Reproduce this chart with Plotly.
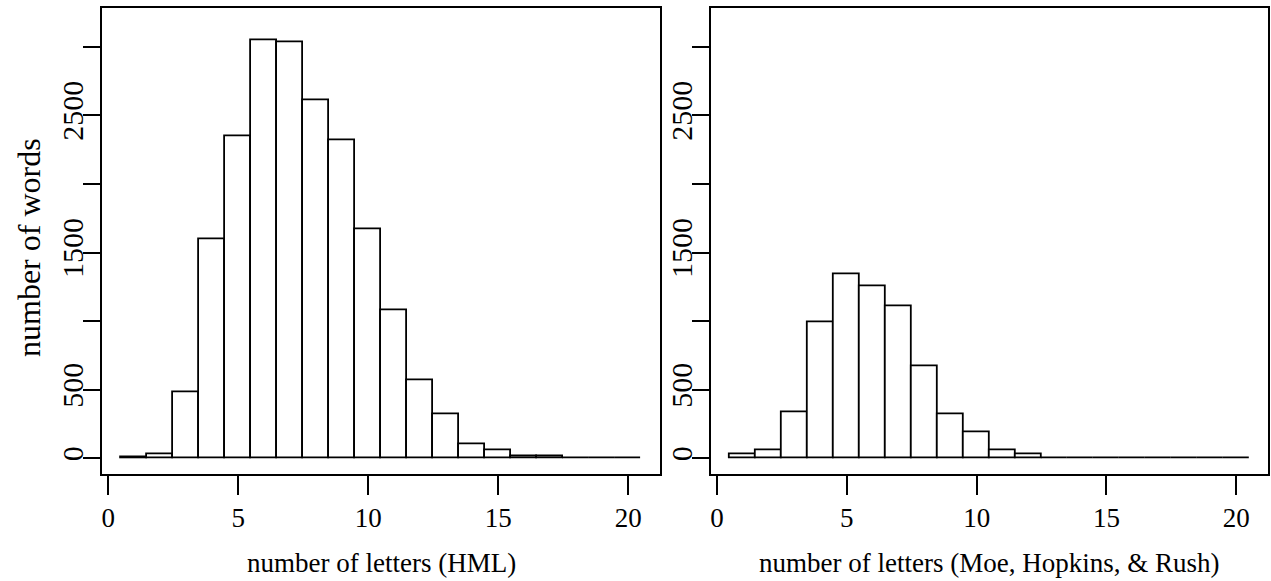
import plotly.graph_objects as go

# Data
letters = list(range(1, 21))
hml_counts = [10, 30, 481, 1600, 2344, 3044, 3032, 2606, 2315, 1673,
              1076, 568, 323, 106, 60, 15, 12, 4, 2, 1]
mhr_counts = [31, 60, 335, 991, 1341, 1256, 1105, 668, 323, 190,
              60, 31, 4, 3, 3, 2, 2, 1, 1, 1]
x_ticks = [0, 5, 10, 15, 20]
y_ticks = [0, 500, 1000, 1500, 2000, 2500, 3000]
y_tick_labels = ["0", "500", "", "1500", "", "2500", ""]
x_titles = ["number of letters (HML)", "number of letters (Moe, Hopkins, & Rush)"]
y_title = "number of words"

W, H = 1271, 581
FONT = "Liberation Serif, Times New Roman, serif"
FS = 27
FS_Y = 30

fig = go.Figure()
for i, counts in enumerate([hml_counts, mhr_counts]):
    suffix = "" if i == 0 else "2"
    fig.add_trace(go.Bar(
        x=letters, y=counts, width=1,
        marker=dict(color="white", line=dict(color="black", width=1.8)),
        xaxis="x" + suffix, yaxis="y" + suffix, showlegend=False,
    ))

ydom = [1 - 474 / H, 1 - 8.3 / H]
xdoms = [[102 / W, 660 / W], [710.7 / W, 1268 / W]]

common_x = dict(range=[-0.24, 21.22], tickvals=x_ticks, ticks="outside", ticklen=19,
                tickwidth=1.8, tickcolor="black", showline=True, mirror=True,
                linecolor="black", linewidth=1.8, showgrid=False, zeroline=False,
                tickfont=dict(family=FONT, size=FS, color="black"))
common_y = dict(range=[-114, 3280], tickvals=y_ticks, ticktext=y_tick_labels,
                ticks="outside", ticklen=17, tickwidth=1.8, tickcolor="black",
                showline=True, mirror=True, linecolor="black", linewidth=1.8,
                showgrid=False, zeroline=False, tickangle=-90, ticklabelstandoff=-12,
                tickfont=dict(family=FONT, size=FS_Y, color="black"))

fig.update_layout(
    width=W, height=H,
    margin=dict(l=0, r=0, t=0, b=0),
    paper_bgcolor="white", plot_bgcolor="white",
    xaxis=dict(domain=xdoms[0], anchor="y", **common_x),
    yaxis=dict(domain=ydom, anchor="x", **common_y),
    xaxis2=dict(domain=xdoms[1], anchor="y2", **common_x),
    yaxis2=dict(domain=ydom, anchor="x2", **common_y),
    bargap=0,
)

for i, t in enumerate(x_titles):
    cx = (xdoms[i][0] + xdoms[i][1]) / 2
    fig.add_annotation(text=t, x=cx, y=1 - 563 / H, xref="paper", yref="paper",
                       showarrow=False, xanchor="center", yanchor="middle",
                       font=dict(family=FONT, size=FS, color="black"))
fig.add_annotation(text=y_title, x=29 / W, y=1 - 248 / H, xref="paper", yref="paper",
                   showarrow=False, textangle=-90, xanchor="center", yanchor="middle",
                   font=dict(family=FONT, size=32, color="black"))

fig.write_html("out.html", config={"displayModeBar": False},
               post_script="document.body.style.margin='0';document.body.style.overflow='hidden';")
